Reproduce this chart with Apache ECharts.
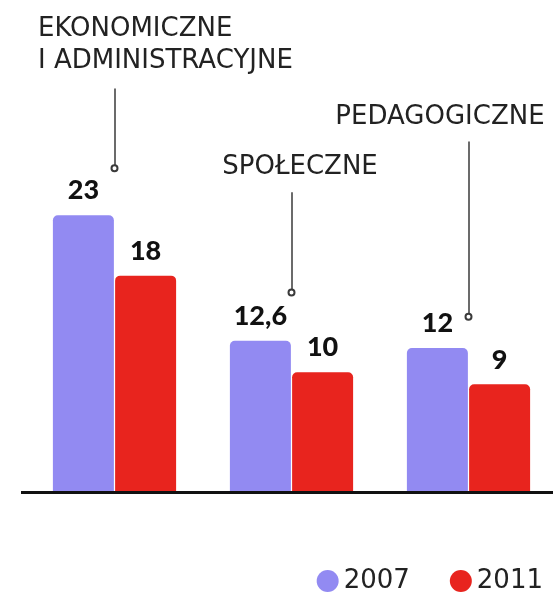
<!DOCTYPE html>
<html>
<head>
<meta charset="utf-8">
<script src="https://cdn.jsdelivr.net/npm/echarts@6/dist/echarts.min.js"></script>
<style>
  html, body { margin: 0; padding: 0; background: #ffffff; }
  #chart { width: 559px; height: 595px; }
</style>
</head>
<body>
<div id="chart"></div>
<script>
// ---- data ----
const categories = ['EKONOMICZNE\nI ADMINISTRACYJNE', 'SPOŁECZNE', 'PEDAGOGICZNE'];
const seriesNames = ['2007', '2011'];
const values2007 = [23, 12.6, 12];
const values2011 = [18, 10, 9];
// leader lines: [top value, bottom value] for each category
const leaderTop = [33.5, 24.9, 29.1];
const leaderBottom = [26.9, 16.6, 14.6];

const FONT = 'DejaVu Sans';
const colors = ['#928af2', '#e8241e'];

const chart = echarts.init(document.getElementById('chart'), null, { renderer: 'canvas' });

const labelCfg = {
  show: true,
  position: 'top',
  distance: 11,
  fontFamily: 'Lato',
  fontWeight: 900,
  fontSize: 27,
  color: '#111111',
  formatter: p => String(p.value).replace('.', ',')
};

const leaderData = categories.map((c, i) => [
  { coord: [c, leaderTop[i]], symbol: 'none' },
  { coord: [c, leaderBottom[i]], symbol: 'emptyCircle', symbolSize: 6 }
]);

const option = {
  animation: false,
  backgroundColor: '#ffffff',
  grid: { left: 26, right: 2, top: 10, bottom: 102, containLabel: false },
  xAxis: {
    type: 'category',
    data: categories,
    axisLine: { show: false },
    axisTick: { show: false },
    axisLabel: { show: false }
  },
  yAxis: {
    type: 'value',
    min: 0,
    max: 40,
    show: false,
    splitLine: { show: false }
  },
  legend: {
    data: seriesNames,
    icon: 'circle',
    itemWidth: 22,
    itemHeight: 22,
    itemGap: 40,
    right: 11,
    top: 563,
    textStyle: { fontFamily: FONT, fontSize: 26, color: '#222222' }
  },
  series: [
    {
      name: seriesNames[0],
      type: 'bar',
      data: values2007,
      barWidth: 61,
      barGap: '2%',
      itemStyle: { color: colors[0], borderRadius: [5, 5, 0, 0] },
      label: labelCfg
    },
    {
      name: seriesNames[1],
      type: 'bar',
      data: values2011,
      barWidth: 61,
      itemStyle: { color: colors[1], borderRadius: [5, 5, 0, 0] },
      label: labelCfg
    },
    {
      name: 'leaders',
      type: 'scatter',
      data: [],
      silent: true,
      markLine: {
        silent: true,
        animation: false,
        symbol: ['none', 'emptyCircle'],
        symbolSize: 6,
        label: { show: false },
        lineStyle: { color: '#3a3a3a', width: 1.5, type: 'solid' },
        emphasis: { disabled: true },
        data: leaderData
      }
    }
  ],
  graphic: [
    {
      type: 'line', z: 100,
      shape: { x1: 21, y1: 492.5, x2: 553, y2: 492.5 },
      style: { stroke: '#111111', lineWidth: 3 }
    },
    {
      type: 'text', left: 38, top: 13,
      style: {
        text: 'EKONOMICZNE\nI ADMINISTRACYJNE',
        fontFamily: FONT, fontSize: 26, lineHeight: 32, fill: '#222222'
      }
    },
    {
      type: 'text', x: 300, y: 167,
      style: {
        text: 'SPOŁECZNE', align: 'center', verticalAlign: 'middle',
        fontFamily: FONT, fontSize: 26, fill: '#222222'
      }
    },
    {
      type: 'text', x: 440, y: 117,
      style: {
        text: 'PEDAGOGICZNE', align: 'center', verticalAlign: 'middle',
        fontFamily: FONT, fontSize: 26, fill: '#222222'
      }
    }
  ]
};

chart.setOption(option);
</script>
</body>
</html>
